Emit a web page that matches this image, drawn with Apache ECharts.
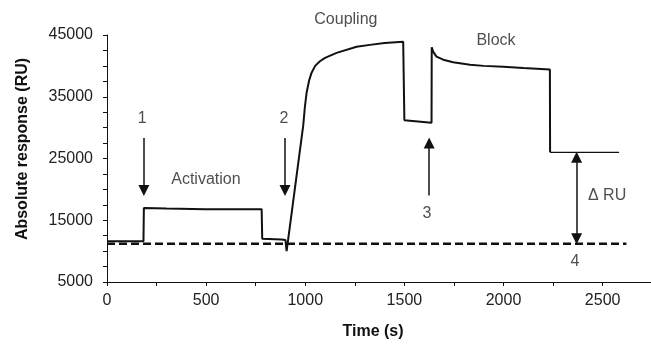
<!DOCTYPE html>
<html>
<head>
<meta charset="utf-8">
<script src="https://cdn.jsdelivr.net/npm/echarts@6/dist/echarts.min.js"></script>
<style>
  html, body { margin: 0; padding: 0; background: #fff; }
  #main { width: 651px; height: 345px; }
</style>
</head>
<body>
<div id="main"></div>
<script>
// sensorgram trace (time s, response RU)
const traceTime = [0, 184, 186, 300, 495, 500, 505, 780, 783, 880, 900, 906, 950, 990, 998, 1007, 1020, 1032, 1050, 1074, 1100, 1158, 1259, 1326, 1400, 1494, 1500, 1510, 1637, 1638, 1645, 1662, 1696, 1746, 1831, 1900, 1999, 2100, 2234, 2235];
const traceValue = [11600, 11600, 17000, 16900, 16800, 16550, 16800, 16800, 12000, 11900, 11800, 10000, 20700, 30400, 33300, 35700, 37700, 38900, 40000, 40750, 41300, 42100, 43100, 43400, 43700, 43900, 31200, 30900, 30800, 43000, 42300, 41500, 41000, 40600, 40200, 40000, 39850, 39650, 39400, 26000];
const tailTime = [2235, 2583];
const tailValue = [26000, 26000];
const baseTime = [0, 2620];
const baseValue = [11200, 11200];

// arrows: [t0, v0, t1, v1, both ends]
const arrows = [
  [186, 28300, 186, 19800, false],
  [898, 28300, 898, 19800, false],
  [1625, 19000, 1625, 27500, false],
  [2369, 25200, 2369, 12000, true]
];

// annotation texts
const noteText = ['1', '2', 'Activation', 'Coupling', 'Block', '3', '\u0394 RU', '4'];
const noteTime = [177, 893, 499, 1205, 1962, 1614, 2426, 2360];
const noteValue = [31400, 31400, 21650, 47550, 44040, 16150, 19020, 8350];

const xTicks = [0, 500, 1000, 1500, 2000, 2500];
const yTicks = [5000, 15000, 25000, 35000, 45000];

const font = 'Liberation Sans, Arial, sans-serif';
const ink = '#111';

const chart = echarts.init(document.getElementById('main'));

function zip(a, b) {
  return a.map((t, i) => [t, b[i]]);
}

const option = {
  animation: false,
  grid: { left: 107, right: 0, top: 35, bottom: 59 },
  xAxis: {
    type: 'value',
    min: 0,
    max: 2744,
    interval: 250,
    splitLine: { show: false },
    axisLine: { lineStyle: { color: ink, width: 1 } },
    axisTick: { length: 4, lineStyle: { color: ink } },
    axisLabel: {
      margin: 11,
      color: '#222',
      fontFamily: font,
      fontSize: 16,
      showMaxLabel: false,
      formatter: v => xTicks.indexOf(v) >= 0 ? String(v) : ''
    },
    name: 'Time (s)',
    nameLocation: 'middle',
    nameGap: 42,
    nameTextStyle: { fontFamily: font, fontSize: 16, fontWeight: 'bold', color: ink, padding: [0, 12, 0, 0] }
  },
  yAxis: {
    type: 'value',
    min: 5000,
    max: 45000,
    interval: 2500,
    splitLine: { show: false },
    axisLine: { show: true, lineStyle: { color: ink, width: 1 } },
    axisTick: { show: true, length: 4, lineStyle: { color: ink } },
    axisLabel: {
      margin: 14,
      color: '#222',
      fontFamily: font,
      fontSize: 16,
      formatter: v => yTicks.indexOf(v) >= 0 ? String(v) : ''
    }
  },
  graphic: [{
    type: 'text',
    x: 23,
    y: 149,
    rotation: Math.PI / 2,
    style: {
      text: 'Absolute response (RU)',
      font: 'bold 16px ' + font,
      fill: ink,
      align: 'center',
      verticalAlign: 'middle'
    }
  }],
  series: [
    {
      type: 'line',
      data: zip(baseTime, baseValue),
      symbol: 'none',
      lineStyle: { color: ink, width: 2.5, type: [8, 4] },
      z: 2
    },
    {
      type: 'line',
      data: zip(traceTime, traceValue),
      symbol: 'none',
      lineStyle: { color: ink, width: 2 },
      z: 3
    },
    {
      type: 'line',
      data: zip(tailTime, tailValue),
      symbol: 'none',
      lineStyle: { color: ink, width: 1.2 },
      z: 3
    },
    {
      type: 'lines',
      coordinateSystem: 'cartesian2d',
      symbolSize: 11,
      lineStyle: { color: ink, width: 1.5, opacity: 1 },
      data: arrows.map(a => ({
        coords: [[a[0], a[1]], [a[2], a[3]]],
        symbol: [a[4] ? 'triangle' : 'none', 'triangle']
      })),
      z: 4
    },
    {
      type: 'scatter',
      symbolSize: 0,
      clip: false,
      silent: true,
      label: {
        show: true,
        position: 'inside',
        color: '#222',
        fontFamily: font,
        fontSize: 16,
        formatter: p => p.data.text
      },
      data: noteText.map((s, i) => ({
        value: [noteTime[i], noteValue[i]],
        text: s,
        label: s.indexOf('RU') >= 0 ? { align: 'left' } : {}
      })),
      z: 5
    }
  ]
};

chart.setOption(option);
</script>
</body>
</html>
